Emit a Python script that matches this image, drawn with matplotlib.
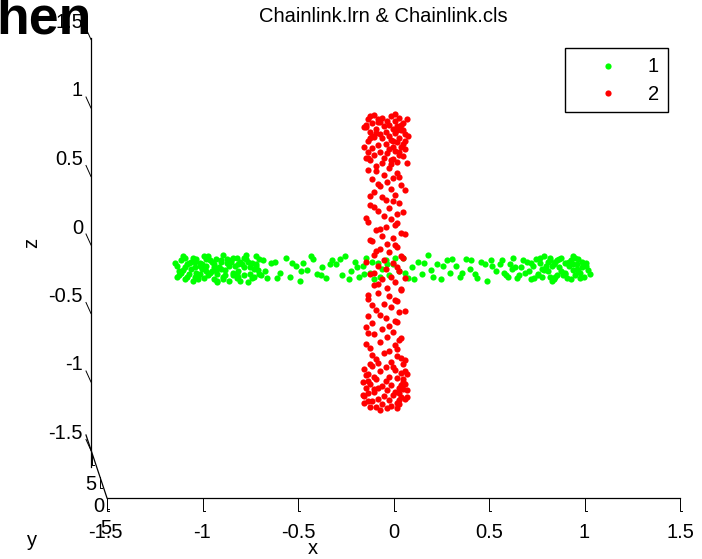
import matplotlib.pyplot as plt
from matplotlib.patches import Rectangle

plt.rcParams['font.family'] = ['Liberation Sans', 'DejaVu Sans']

# class 1 (green ring, seen edge-on)
x1 = [-1.09, -1.08, -1.07, -1.06, -1.05, -1.05, -1.04, -1.03, -1.02, -1.01, -1.00, -0.99, -0.99, -0.98, -0.97,
      -0.96, -0.95, -0.95, -0.94, -0.93, -0.92, -0.91, -0.90, -0.90, -0.89, -0.88, -0.87, -0.86, -0.85, -0.85,
      -0.84, -0.83, -0.82, -0.81, -0.80, -0.79, -0.78, -0.78, -0.77, -0.76, -0.75, -0.74, -0.73, -0.72, -0.71,
      -0.70, -0.69, -0.68, -0.67, -0.66,
      -1.07, -1.03, -1.00, -0.97, -0.94, -0.91, -0.88, -0.86, -0.83, -0.80, -0.77, -0.74, -0.71, -0.68, -0.64, -0.62,
      -0.58, -0.55, -0.52, -0.50, -0.47, -0.45, -0.43, -0.41, -0.38, -0.36, -0.33, -0.31, -0.28, -0.26, -0.23,
      -0.21, -0.18, -0.16, -0.14, -0.12, -0.10, -0.08, -0.06, -0.04, -0.02, 0.00, 0.02, 0.04, 0.07, 0.09, 0.12,
      0.14, 0.17, 0.19, 0.22, 0.24, 0.27, 0.29, 0.32, 0.34, 0.37, 0.39, 0.42, 0.44, 0.47, 0.50, 0.53, 0.56,
      0.58, 0.61, 0.63, 0.65, 0.67, 0.69, 0.71, 0.73, 0.74, 0.76, 0.77, 0.79, 0.80, 0.81, 0.82, 0.83, 0.84, 0.85,
      0.86, 0.87, 0.88, 0.89, 0.90, 0.91, 0.92, 0.93, 0.94, 0.95, 0.96, 0.97, 0.98, 0.99, 1.00, 1.01, 1.02, 1.03,
      1.04, 1.05, 1.06, 0.84, 0.88, 0.92, 0.96, 1.00, 0.80, 0.86, 0.94, 0.98,
      -1.10, -1.08, -1.06, -1.04, -1.02, -1.00, -0.98, -0.96, -0.94, -0.92, -0.90, -0.88, -0.86, -0.84, -0.82,
      -0.80, -0.78, -0.76, -0.74, -0.72, -0.70, -0.68, -0.66, -0.63, -0.60, -1.09, -1.05, -1.01, -0.97, -0.93,
      -0.89, -0.85, -0.81, -0.77, -0.73, -0.69, -0.65,
      -0.57, -0.49, -0.44, -0.39, -0.34, -0.29, -0.24, -0.19, -0.15, -0.11, -0.07, -0.03, 0.01, 0.05, 0.10,
      0.15, 0.20, 0.25, 0.30, 0.35, 0.40, 0.45, 0.48, 0.52, 0.55,
      0.60, 0.64, 0.68, 0.72, 0.75, 0.78, 0.81, 0.83, 0.85, 0.87, 0.89, 0.91, 0.93, 0.95, 0.97,
      0.99, 1.01, 1.03, 1.05, 1.07, 0.82, 0.86, 0.90, 0.94, 0.98, 1.02, 0.76, 0.70, 0.66, 0.62]
z1 = [0.02, -0.05, 0.06, -0.01, 0.08, -0.08, 0.03, -0.04, 0.05, -0.09, 0.01, 0.07, -0.03, -0.06, 0.04,
      0.00, -0.07, 0.09, 0.02, -0.05, 0.06, -0.02, 0.03, -0.08, 0.07, -0.04, 0.01, 0.05, -0.06, 0.10,
      -0.01, 0.04, -0.09, 0.06, -0.03, 0.02, 0.08, -0.07, -0.02, 0.05, 0.03, -0.05, 0.07, -0.10, 0.01,
      0.04, -0.06, 0.09, -0.01, -0.04,
      -0.03, 0.04, -0.06, 0.02, -0.02, 0.05, -0.09, 0.00, 0.07, -0.05, 0.03, 0.08, -0.04, 0.02, 0.06, -0.07,
      0.05, -0.03, 0.08, -0.06, 0.02, -0.09, 0.04, -0.01, 0.07, -0.04, 0.01, -0.07, 0.06, 0.03, -0.05,
      0.09, -0.02, 0.05, -0.06, 0.02, 0.08, -0.03, -0.08, 0.04, 0.00, 0.06, -0.05, 0.03, -0.02, 0.08, -0.07,
      0.01, 0.05, -0.04, 0.10, -0.01, 0.03, -0.08, 0.06, -0.03, 0.02, -0.06, 0.07, 0.00, -0.04, 0.05, -0.09, 0.02,
      -0.02, 0.06, -0.05, 0.03, 0.08, -0.07, 0.01, -0.03, 0.05, -0.08, 0.02, 0.07, -0.04, 0.04, -0.06, 0.09, 0.00,
      -0.02, 0.06, -0.09, 0.03, 0.05, -0.05, 0.01, 0.08, -0.03, 0.04, -0.07, 0.02, 0.06, -0.01, -0.05, 0.03, 0.07,
      -0.03, 0.01, -0.06, 0.04, -0.01, 0.02, -0.08, -0.02, 0.05, 0.00, -0.05, 0.08, -0.04, 0.03,
      0.04, -0.02, 0.09, -0.06, 0.00, 0.05, -0.08, 0.03, 0.07, -0.03, 0.01, -0.10, 0.06, -0.05, 0.02,
      0.08, -0.04, -0.09, 0.01, 0.05, -0.07, 0.03, 0.07, -0.02, 0.04, -0.06, 0.01, 0.08, -0.04, 0.09,
      -0.01, -0.08, 0.05, -0.06, 0.10, 0.00, -0.05,
      -0.07, 0.04, -0.02, 0.09, -0.05, 0.03, 0.07, -0.08, 0.01, -0.04, 0.05, -0.06, 0.03, 0.08, -0.03,
      -0.08, 0.04, -0.06, 0.02, 0.07, -0.03, 0.06, -0.07, 0.03, 0.06,
      0.03, -0.06, 0.01, 0.06, -0.02, -0.07, 0.08, -0.01, 0.05, 0.02, -0.06, 0.07, -0.05, 0.04, -0.08,
      0.08, -0.02, 0.05, 0.02, -0.04, 0.00, -0.06, 0.06, -0.03, 0.09, -0.07, 0.04, -0.05, 0.00, -0.03]

# class 2 (red ring, seen edge-on)
x2 = [-0.06, 0.03, -0.02, 0.07, -0.09, 0.01, 0.05, -0.04, 0.09, -0.07, 0.02, -0.01, 0.06, -0.10, 0.04,
      -0.05, 0.08, 0.00, -0.08, 0.05, -0.03, 0.10, 0.02, -0.06, 0.07, -0.02, 0.03, -0.09, 0.06, 0.00,
      -0.04, 0.08, -0.07, 0.02, 0.05, -0.03, 0.01, -0.06, 0.09, -0.01, 0.04, -0.08, 0.06, -0.02, 0.03, -0.05,
      0.02, -0.05, 0.06, -0.01, 0.04, -0.07, 0.01, 0.08, -0.03, 0.03, -0.06, 0.05, -0.02, 0.00, 0.07,
      -0.08, 0.02, -0.04, 0.06, -0.01, 0.03, -0.09, 0.05, 0.00, -0.05, 0.08, -0.02, 0.04, -0.07, 0.01,
      0.06, -0.03, 0.02, -0.06, 0.09, -0.01, 0.04, -0.04, 0.00, 0.07, -0.08, 0.03, -0.02, 0.05, -0.06,
      0.01, 0.08, -0.04, 0.02, -0.09, 0.06, -0.01, 0.03, -0.05, 0.07, -0.03, 0.00, 0.05, -0.07, 0.02, -0.02,
      0.04, -0.06, 0.01, 0.07, -0.03, 0.05, -0.08, 0.02, -0.01, 0.06, -0.05, 0.03, 0.09, -0.07, 0.00,
      0.05, -0.03, 0.08, -0.10, 0.02, 0.06, -0.05, 0.00, 0.09, -0.08, 0.03, -0.02, 0.07, -0.06, 0.01,
      0.05, -0.09, 0.04, -0.01, 0.08, -0.04, 0.02, -0.07, 0.06, -0.02, 0.03, -0.05, 0.01, -0.03, -0.09,
      0.10, -0.06, 0.07, 0.04, -0.04,
      0.05, -0.08, 0.11, -0.03, 0.08, -0.11, 0.06, -0.05, 0.12, -0.08, 0.04, 0.09, -0.11, 0.10, -0.09,
      0.07, -0.10, 0.03, 0.11, -0.04, -0.10, 0.09, -0.07, 0.10, 0.04, 0.07, -0.09,
      -0.09, 0.07, -0.04, 0.10, -0.08, 0.04, -0.06, 0.09, -0.10, 0.06, -0.03, 0.10, -0.08, 0.05, -0.05,
      0.08, -0.10, 0.06, -0.06, 0.10, -0.04, 0.08, -0.09, 0.05, -0.07, 0.10, -0.09, 0.06, -0.10,
      -0.09, 0.08, -0.10, 0.06, -0.07, 0.10, -0.04, -0.11, 0.11, -0.06, 0.09, -0.12, 0.08, -0.10, 0.11,
      0.07, -0.11, 0.10, -0.09, 0.07, -0.08, 0.06, 0.10, -0.09, 0.09, 0.11, -0.11, -0.08, 0.08, -0.12]
z2 = [1.12, 1.11, 1.10, 1.10, 1.09, 1.08, 1.08, 1.07, 1.06, 1.06, 1.05, 1.04, 1.04, 1.03, 1.02,
      1.02, 1.01, 1.00, 1.00, 0.99, 0.98, 0.98, 0.97, 0.96, 0.95, 0.95, 0.94, 0.93, 0.92, 0.91,
      0.90, 0.89, 0.88, 0.87, 0.86, 0.85, 0.84, 0.83, 0.82, 0.81, 0.80, 0.79, 0.78, 0.77, 0.76, 0.75,
      0.73, 0.71, 0.70, 0.68, 0.66, 0.65, 0.63, 0.61, 0.60, 0.58, 0.56, 0.54, 0.52, 0.50, 0.48,
      0.46, 0.44, 0.42, 0.40, 0.38, 0.36, 0.34, 0.32, 0.30, 0.28, 0.26, 0.24, 0.22, 0.20, 0.18,
      0.16, 0.14, 0.12, 0.10, 0.08, 0.06, 0.04, 0.02, 0.00, -0.02, -0.04, -0.06, -0.08, -0.10, -0.12,
      -0.14, -0.16, -0.18, -0.20, -0.22, -0.24, -0.26, -0.28, -0.30, -0.32, -0.34, -0.36, -0.38, -0.40, -0.42,
      -0.44, -0.46, -0.48, -0.50, -0.52, -0.54, -0.56, -0.58, -0.60, -0.62, -0.64, -0.66, -0.68, -0.70, -0.71,
      -0.72, -0.74, -0.75, -0.76, -0.78, -0.79, -0.80, -0.81, -0.82, -0.83, -0.84, -0.85, -0.86, -0.87, -0.88,
      -0.89, -0.90, -0.91, -0.92, -0.93, -0.94, -0.95, -0.96, -0.97, -0.98, -0.99, -1.00, -1.01, -1.02, -1.03,
      -0.77, -0.84, -0.90, -0.96, -0.72, -0.87,
      1.13, 1.11, 1.09, 1.07, 1.05, 1.03, 1.01, 0.99, 0.97, 0.95, 0.93, 0.91, 0.89, 0.87, 0.85,
      0.83, 0.81, 0.79, 0.77, 1.09, 1.05, 1.01, 0.97, 0.93, 0.89, 0.85, 0.81,
      0.72, 0.67, 0.62, 0.57, 0.53, 0.49, 0.45, 0.41, 0.37, 0.33, 0.29, 0.25, 0.21, 0.17, 0.13,
      0.09, 0.05, 0.01, -0.03, -0.07, -0.11, -0.15, -0.19, -0.23, -0.27, -0.31, -0.35, -0.39, -0.43,
      -0.47, -0.51, -0.55, -0.59, -0.63, -0.67, -0.69, -0.73, -0.77, -0.79, -0.81, -0.83, -0.85, -0.87, -0.89,
      -0.91, -0.93, -0.95, -0.97, -0.99, -1.01, -1.02, -0.75, -0.82, -0.88, -0.94, -0.98, -0.70, -0.65, -0.92]

x_ticks = [-1.5, -1, -0.5, 0, 0.5, 1, 1.5]
x_tick_labels = ["-1.5", "-1", "-0.5", "0", "0.5", "1", "1.5"]
z_ticks = [1.5, 1, 0.5, 0, -0.5, -1, -1.5]
z_tick_labels = ["1.5", "1", "0.5", "0", "-0.5", "-1", "-1.5"]
y_tick_labels = ["5", "0", "5"]
legend_labels = ["1", "2"]
colors = ["#00ff00", "#ff0000"]

W, H = 702, 559
fig = plt.figure(figsize=(W / 100, H / 100), dpi=100)

# overlay in pixel units for the 3-D box look
deco = fig.add_axes([0, 0, 1, 1])
deco.set_xlim(0, W)
deco.set_ylim(H, 0)
deco.axis('off')

# data axes: 191 px per unit in x, 137 px per unit in z
sx, sz = 191.0, 137.0
ox, oz = 385.5, 268.5
ax = fig.add_axes([0, 0, 1, 1])
ax.set_xlim(-ox / sx, (W - ox) / sx)
ax.set_ylim((oz - H) / sz, oz / sz)
ax.axis('off')
ax.patch.set_alpha(0)

ms = 20
ax.scatter(x1, z1, s=ms, c=colors[0], linewidths=0)
ax.scatter(x2, z2, s=ms, c=colors[1], linewidths=0)

fs = 14.5
lw = 0.9
# front x axis
deco.plot([107, 680], [497.5, 497.5], color='k', lw=lw)
for v, lab in zip(x_ticks, x_tick_labels):
    px = ox + 8 + v * sx
    deco.plot([px, px, px + 2], [498, 511, 511], color='k', lw=0.7)
    deco.text(px - (2 if v == -1.5 else 0), 532, lab, ha='center', va='center', fontsize=fs)

# back z axis
deco.plot([91, 91], [38, 467], color='k', lw=lw)
for v, lab in zip(z_ticks, z_tick_labels):
    py = 245 - v * sz
    deco.plot([86, 91], [py - 11, py], color='k', lw=0.7)
    deco.text(83, py - 17, lab, ha='right', va='center', fontsize=fs)

# depth (y) axis
deco.plot([86, 107], [435, 498], color='k', lw=lw)
for (px, py), lab in zip([(92, 454), (100, 477), (107, 498)], y_tick_labels):
    deco.plot([px, px, px + 2], [py, py + 11, py + 11], color='k', lw=0.7)
    deco.text(px - 1, py + 30, lab, ha='center', va='center', fontsize=fs)

deco.text(313, 549, 'x', ha='center', va='center', fontsize=fs)
deco.text(32, 540, 'y', ha='center', va='center', fontsize=fs)
deco.text(32, 243, 'z', ha='center', va='center', fontsize=fs, rotation=90)
deco.text(383, 16, 'Chainlink.lrn & Chainlink.cls', ha='center', va='center', fontsize=fs)

# legend box
deco.add_patch(Rectangle((565, 48), 103, 64, fill=False, ec='k', lw=1))
for i, (lab, c) in enumerate(zip(legend_labels, colors)):
    py = 66 + i * 27
    deco.scatter([608], [py], s=ms, c=c, linewidths=0)
    deco.text(659, py + 1, lab, ha='right', va='center', fontsize=fs)

# leftover slide heading, clipped at the edge
deco.text(-4, 33, 'hen', fontsize=38.5, fontweight='bold', va='baseline', ha='left', zorder=10)

fig.savefig('out.png', dpi=100)
